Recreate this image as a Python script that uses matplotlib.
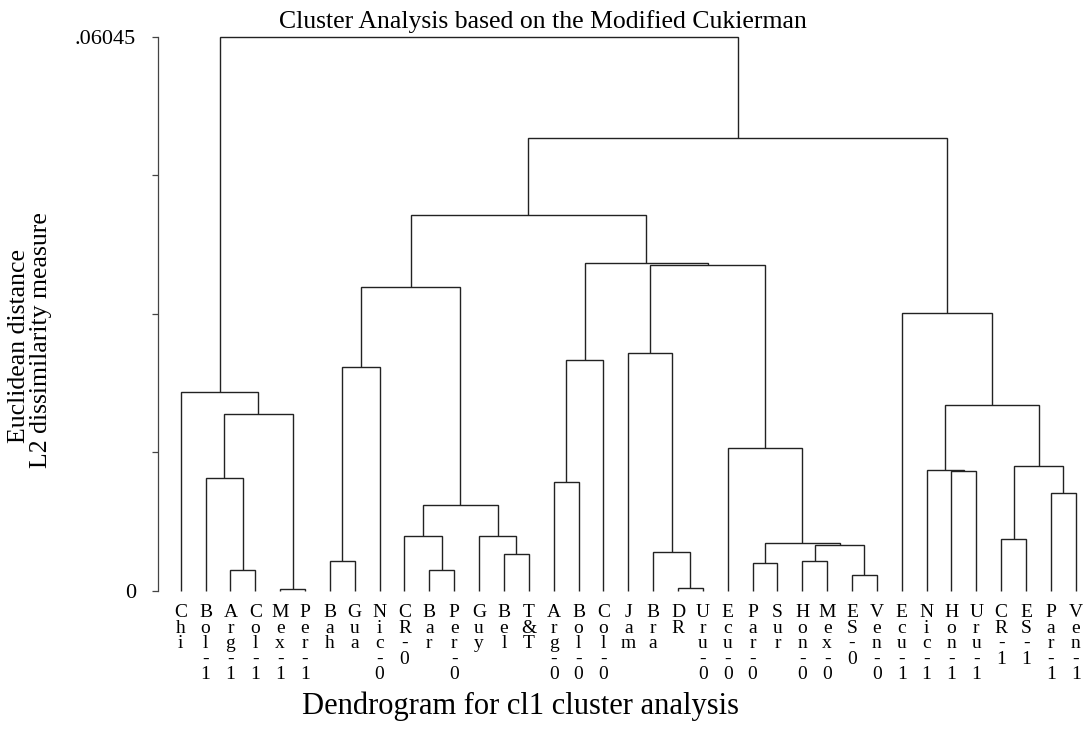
import matplotlib
matplotlib.use("Agg")
import matplotlib.pyplot as plt
from matplotlib.transforms import blended_transform_factory

plt.rcParams['font.family'] = ['Liberation Serif', 'DejaVu Serif']

# leaf order as drawn, left to right
leaves = ["Chi", "Bol-1", "Arg-1", "Col-1", "Mex-1", "Per-1", "Bah", "Gua", "Nic-0",
          "CR-0", "Bar", "Per-0", "Guy", "Bel", "T&T", "Arg-0", "Bol-0", "Col-0",
          "Jam", "Bra", "DR", "Uru-0", "Ecu-0", "Par-0", "Sur", "Hon-0", "Mex-0",
          "ES-0", "Ven-0", "Ecu-1", "Nic-1", "Hon-1", "Uru-1", "CR-1", "ES-1",
          "Par-1", "Ven-1"]

# merges: leaf names or "nK" = result of merge K
merge_left = ["Arg-1", "Mex-1", "Bol-1", "n2", "Chi", "Bah", "n5", "Bar", "CR-0", "Bel",
              "Guy", "n8", "n6", "Arg-0", "n13", "DR", "Bra", "Jam", "Par-0", "Hon-0",
              "ES-0", "n19", "n18", "Ecu-0", "n17", "n14", "n12", "Hon-1", "Nic-1", "CR-1",
              "Par-1", "n29", "n28", "Ecu-1", "n26", "n4"]
merge_right = ["Col-1", "Per-1", "n0", "n1", "n3", "Gua", "Nic-0", "Per-0", "n7", "T&T",
               "n9", "n10", "n11", "Bol-0", "Col-0", "Uru-0", "n15", "n16", "Sur", "Mex-0",
               "Ven-0", "n20", "n21", "n22", "n23", "n24", "n25", "Uru-1", "n27", "ES-1",
               "Ven-1", "n30", "n31", "n32", "n33", "n34"]
merge_height = [0.00221, 0.00020, 0.01232, 0.01924, 0.02171, 0.00322, 0.02444, 0.00221,
                0.00592, 0.00395, 0.00590, 0.00937, 0.03311, 0.01182, 0.02517, 0.00024,
                0.00417, 0.02590, 0.00297, 0.00319, 0.00173, 0.00494, 0.00515, 0.01553,
                0.03553, 0.03579, 0.04098, 0.01305, 0.01311, 0.00566, 0.01062, 0.01360,
                0.02023, 0.03034, 0.04939, 0.06045]

ymax = 0.06045

W, H = 1086, 730
fig = plt.figure(figsize=(W / 100, H / 100), dpi=100)
x_left, y_bot, y_top = 158, 590.5, 37
ax = fig.add_axes([x_left / W, (H - y_bot) / H, (W - x_left) / W, (y_bot - y_top) / H])

# leaf 0 at px 180.7, leaf 36 at px 1075.8
step = (1075.8 - 180.7) / 36
ax.set_xlim(-(180.7 - x_left) / step, (W - 180.7) / step)
ax.set_ylim(0, ymax)

pos = {name: (i, 0.0) for i, name in enumerate(leaves)}
for k, (a, b, h) in enumerate(zip(merge_left, merge_right, merge_height)):
    xa, ya = pos[a]
    xb, yb = pos[b]
    ax.plot([xa, xa, xb, xb], [ya, h, h, yb], color='#222222', lw=1.0,
            solid_capstyle='butt', solid_joinstyle='miter', clip_on=False)
    pos["n%d" % k] = ((xa + xb) / 2, h)

for s in ['top', 'right', 'bottom']:
    ax.spines[s].set_visible(False)
ax.spines['left'].set_linewidth(0.9)
ax.spines['left'].set_color('#444444')
ax.set_xticks([])
ax.set_yticks([0, ymax / 4, ymax / 2, 3 * ymax / 4, ymax])
ax.set_yticklabels(['0', '', '', '', '.06045'])
ax.tick_params(axis='y', length=4, width=0.9, color='#444444', pad=12, labelsize=16)

# stacked leaf labels, one character per line
lab_size = 14
lab_px = lab_size * 100 / 72
asc = 0.683 * lab_px
tr = blended_transform_factory(ax.transData, fig.transFigure)
for i, name in enumerate(leaves):
    ax.text(i, (H - (617.5 - asc)) / H, "\n".join(name), transform=tr,
            ha='center', va='top', multialignment='center',
            fontsize=lab_size, linespacing=0.792 * 14.85 / asc)

fig.text(543 / W, (H - 28) / H, "Cluster Analysis based on the Modified Cukierman",
         ha='center', va='baseline', fontsize=18.5)
fig.text(520 / W, (H - 714) / H, "Dendrogram for cl1 cluster analysis",
         ha='center', va='baseline', fontsize=22)
fig.text(19 / W, (H - 346) / H, "Euclidean distance", rotation=90,
         ha='center', va='center', fontsize=18.5)
fig.text(41 / W, (H - 340) / H, "L2 dissimilarity measure", rotation=90,
         ha='center', va='center', fontsize=18.5)

fig.savefig("out.png", dpi=100)
